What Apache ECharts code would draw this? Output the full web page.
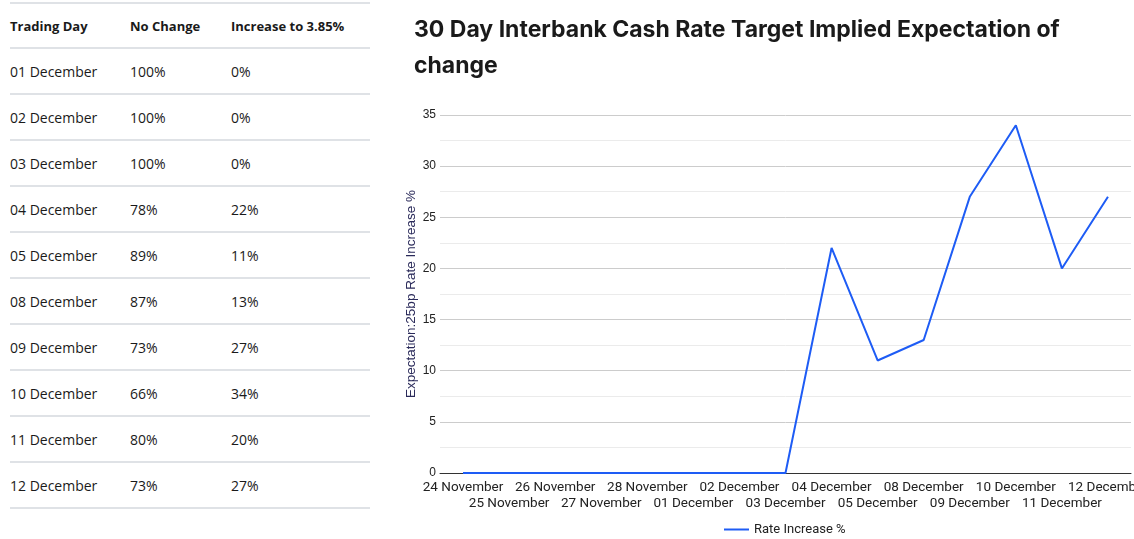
<!DOCTYPE html>
<html>
<head>
<meta charset="utf-8">
<script src="https://cdn.jsdelivr.net/npm/echarts@6/dist/echarts.min.js"></script>
<style>
  html, body { margin:0; padding:0; background:#fff; width:1134px; height:539px; overflow:hidden; }
  #tbl { position:absolute; left:10px; top:2px; width:360px; font-family: "Open Sans", Lato, sans-serif; color:#1a1a1a; }
  .row { height:44px; border-top:2px solid #dfe2e6; display:flex; align-items:center; font-size:14px; }
  .row.last { border-bottom:2px solid #dfe2e6; }
  .row.head { height:43px; font-weight:bold; font-size:13px; }
  .c1 { width:120px; } .c2 { width:101px; } .c3 { flex:1; }
  #chart { position:absolute; left:390px; top:0; width:744px; height:539px; }
</style>
</head>
<body>
<div id="tbl"></div>
<div id="chart"></div>
<script>
// Table data
const tableHeaders = ['Trading Day', 'No Change', 'Increase to 3.85%'];
const tableDays = ['01 December','02 December','03 December','04 December','05 December','08 December','09 December','10 December','11 December','12 December'];
const tableNoChange = ['100%','100%','100%','78%','89%','87%','73%','66%','80%','73%'];
const tableIncrease = ['0%','0%','0%','22%','11%','13%','27%','34%','20%','27%'];

// Chart data
const categories = ['24 November','25 November','26 November','27 November','28 November','01 December','02 December','03 December','04 December','05 December','08 December','09 December','10 December','11 December','12 December'];
const rateIncrease = [0,0,0,0,0,0,0,0,22,11,13,27,34,20,27];

// build table
const tbl = document.getElementById('tbl');
let html = '<div class="row head"><div class="c1">'+tableHeaders[0]+'</div><div class="c2">'+tableHeaders[1]+'</div><div class="c3">'+tableHeaders[2]+'</div></div>';
tableDays.forEach((d,i)=>{
  html += '<div class="row'+(i===tableDays.length-1?' last':'')+'"><div class="c1">'+d+'</div><div class="c2">'+tableNoChange[i]+'</div><div class="c3">'+tableIncrease[i]+'</div></div>';
});
tbl.innerHTML = html;

const chart = echarts.init(document.getElementById('chart'), null, {renderer:'canvas', width:744, height:539});
chart.setOption({
  animation:false,
  title:{
    text:'30 Day Interbank Cash Rate Target Implied Expectation of change',
    left:19, top:7,
    textStyle:{ fontFamily:'Inter, sans-serif', fontWeight:'bold', fontSize:23, color:'#1a1a1a', width:700, overflow:'break', lineHeight:36 }
  },
  grid:{ left:50, right:3, top:115, bottom:66, containLabel:false, outerBoundsMode:'none' },
  legend:{
    data:['Rate Increase %'], left:329, top:518, icon:'rect', itemWidth:25, itemHeight:2,
    textStyle:{ fontFamily:'Roboto, sans-serif', fontSize:13, color:'#222' }
  },
  xAxis:{
    type:'category', data:categories, boundaryGap:true,
    axisLine:{ show:true, lineStyle:{ color:'#333', width:1 } },
    axisTick:{ show:false },
    axisLabel:{
      interval:0, fontFamily:'Roboto, sans-serif', fontSize:13.5, color:'#222', margin:7, lineHeight:16,
      formatter:(v,i)=> i%2 ? '\n'+v : v
    }
  },
  yAxis:{
    type:'value', min:0, max:35, interval:5,
    name:'Expectation:25bp Rate Increase %', nameLocation:'middle', nameGap:22, nameRotate:90,
    nameMoveOverlap:false,
    nameTextStyle:{ fontFamily:'"Liberation Sans", Arial, sans-serif', fontSize:13.5, color:'#2a2a5a' },
    axisLine:{ show:false }, axisTick:{ show:false },
    axisLabel:{ fontFamily:'"Liberation Sans", Arial, sans-serif', fontSize:12, color:'#222', margin:4 },
    splitLine:{ lineStyle:{ color:'#cccccc' } },
    minorTick:{ show:false, splitNumber:2 },
    minorSplitLine:{ show:true, lineStyle:{ color:'#ebebeb' } }
  },
  series:[{
    name:'Rate Increase %', type:'line', data:rateIncrease, showSymbol:false, symbol:'none',
    lineStyle:{ color:'#1e5cf5', width:2 }, itemStyle:{ color:'#1e5cf5' }
  }]
});
</script>
</body>
</html>
